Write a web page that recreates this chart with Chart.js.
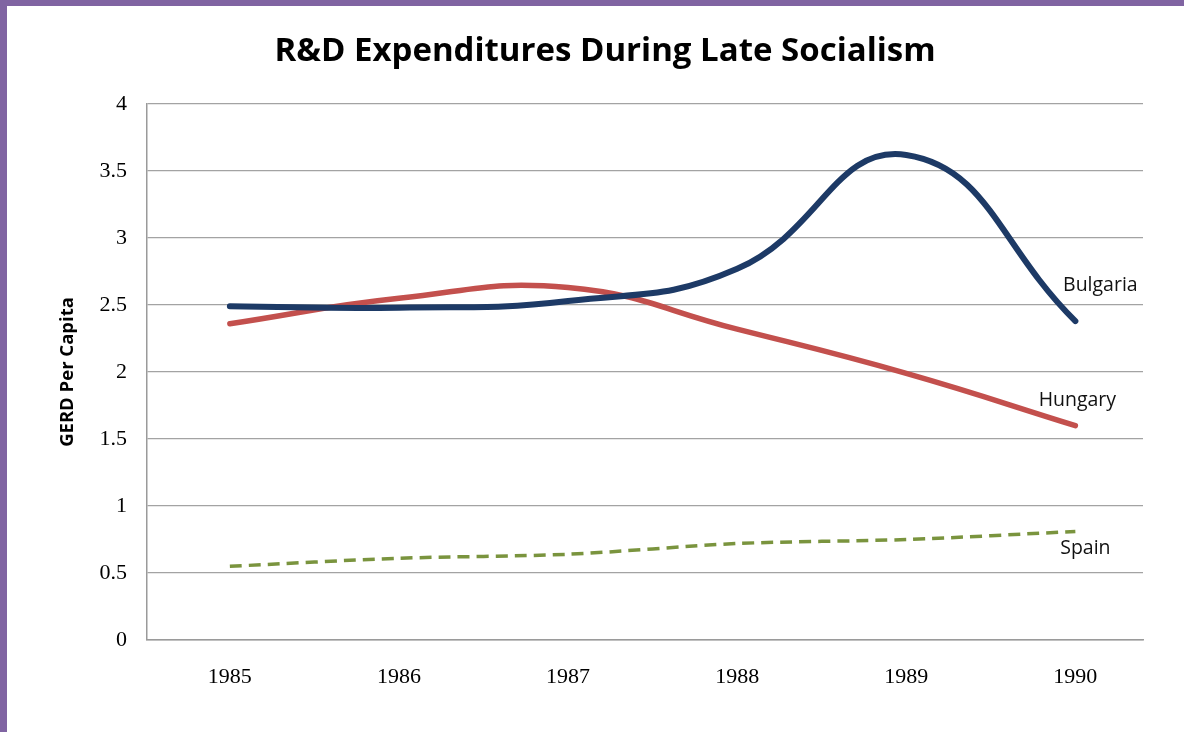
<!DOCTYPE html>
<html>
<head>
<meta charset="utf-8">
<title>R&amp;D Expenditures During Late Socialism</title>
<script src="https://cdn.jsdelivr.net/npm/chart.js@4/dist/chart.umd.min.js"></script>
<style>
  html, body { margin: 0; padding: 0; background: #ffffff; }
  .wrap { position: relative; width: 1184px; height: 732px; overflow: hidden; }
  .bar-top { position: absolute; left: 0; top: 0; width: 1184px; height: 6px; background: #8064a2; }
  .bar-left { position: absolute; left: 0; top: 0; width: 7px; height: 732px; background: #8064a2; }
  canvas { position: absolute; left: 0; top: 0; }
</style>
</head>
<body>
<div class="wrap">
  <canvas id="myChart" width="1184" height="732"></canvas>
  <div class="bar-top"></div>
  <div class="bar-left"></div>
</div>
<script>
const years = [1985, 1986, 1987, 1988, 1989, 1990];
const bulgaria = [2.49, 2.48, 2.53, 2.77, 3.62, 2.38];
const hungary = [2.36, 2.55, 2.63, 2.32, 1.99, 1.60];
const spain = [0.55, 0.61, 0.64, 0.72, 0.75, 0.81];
const yTicks = [0, 0.5, 1, 1.5, 2, 2.5, 3, 3.5, 4];

const chartTitle = 'R&D Expenditures During Late Socialism';
const seriesNames = ['Bulgaria', 'Hungary', 'Spain'];
// where each name sits next to the last point of its line
const nameOffsets = [[25, -36], [2, -25], [10, 17]];

let points = (values) => years.map((yr, i) => ({ x: yr, y: values[i] }));

// title sits a bit right of the plot centre, so it is drawn by hand
const topTitle = {
  id: 'topTitle',
  afterDraw(chart) {
    const ctx = chart.ctx;
    ctx.save();
    ctx.font = 'bold 33px "Open Sans"';
    ctx.fillStyle = '#000000';
    ctx.textAlign = 'center';
    ctx.textBaseline = 'middle';
    ctx.fillText(chartTitle, 605, 52);
    ctx.restore();
  }
};

// writes the series names beside the line ends
const endLabels = {
  id: 'endLabels',
  afterDatasetsDraw(chart) {
    const ctx = chart.ctx;
    ctx.save();
    ctx.font = '19.5px "Open Sans"';
    ctx.fillStyle = '#111111';
    ctx.textAlign = 'center';
    ctx.textBaseline = 'middle';
    chart.data.datasets.forEach((ds, i) => {
      const meta = chart.getDatasetMeta(i);
      const last = meta.data[meta.data.length - 1];
      ctx.fillText(seriesNames[i], last.x + nameOffsets[i][0], last.y + nameOffsets[i][1]);
    });
    ctx.restore();
  }
};

const data = {
  datasets: [
    {
      label: seriesNames[0],
      data: points(bulgaria),
      borderColor: '#1d3a66',
      borderWidth: 6,
      borderCapStyle: 'round',
      tension: 0.45,
      pointRadius: 0
    },
    {
      label: seriesNames[1],
      data: points(hungary),
      borderColor: '#c3504d',
      borderWidth: 5.5,
      borderCapStyle: 'round',
      tension: 0.45,
      pointRadius: 0
    },
    {
      label: seriesNames[2],
      data: points(spain),
      borderColor: '#7a943e',
      borderWidth: 3.5,
      borderDash: [12, 7],
      tension: 0.3,
      pointRadius: 0
    }
  ]
};

const options = {
  responsive: false,
  animation: false,
  layout: { padding: { left: 0, right: 41, top: 104, bottom: 0 } },
  plugins: {
    legend: { display: false },
    tooltip: { enabled: false },
    title: { display: false }
  },
  scales: {
    x: {
      type: 'linear',
      min: 1984.51,
      max: 1990.4,
      afterBuildTicks: (axis) => { axis.ticks = years.map(v => ({ value: v })); },
      afterFit: (axis) => { axis.height = 92; },
      grid: { display: false, drawTicks: false },
      border: { display: true, color: '#9a9a9a', width: 1.5 },
      ticks: {
        padding: 24,
        color: '#000000',
        font: { family: '"Liberation Serif"', size: 22 },
        callback: (v) => String(v)
      }
    },
    y: {
      min: 0,
      max: 4,
      afterBuildTicks: (axis) => { axis.ticks = yTicks.map(v => ({ value: v })); },
      afterFit: (axis) => { axis.width = 147; },
      grid: { color: '#a3a3a3', lineWidth: 1.2, drawTicks: false },
      border: { display: true, color: '#9a9a9a', width: 1.5 },
      ticks: {
        padding: 20,
        color: '#000000',
        font: { family: '"Liberation Serif"', size: 22 },
        callback: (v) => String(v)
      },
      title: {
        display: true,
        text: 'GERD Per Capita',
        color: '#000000',
        font: { family: '"Open Sans"', size: 18.5, weight: 'bold' },
        padding: { top: 57, bottom: 0 }
      }
    }
  }
};

const config = {
  type: 'line',
  data,
  options,
  plugins: [endLabels, topTitle]
};

const myChart = new Chart(document.getElementById('myChart').getContext('2d'), config);
</script>
</body>
</html>
